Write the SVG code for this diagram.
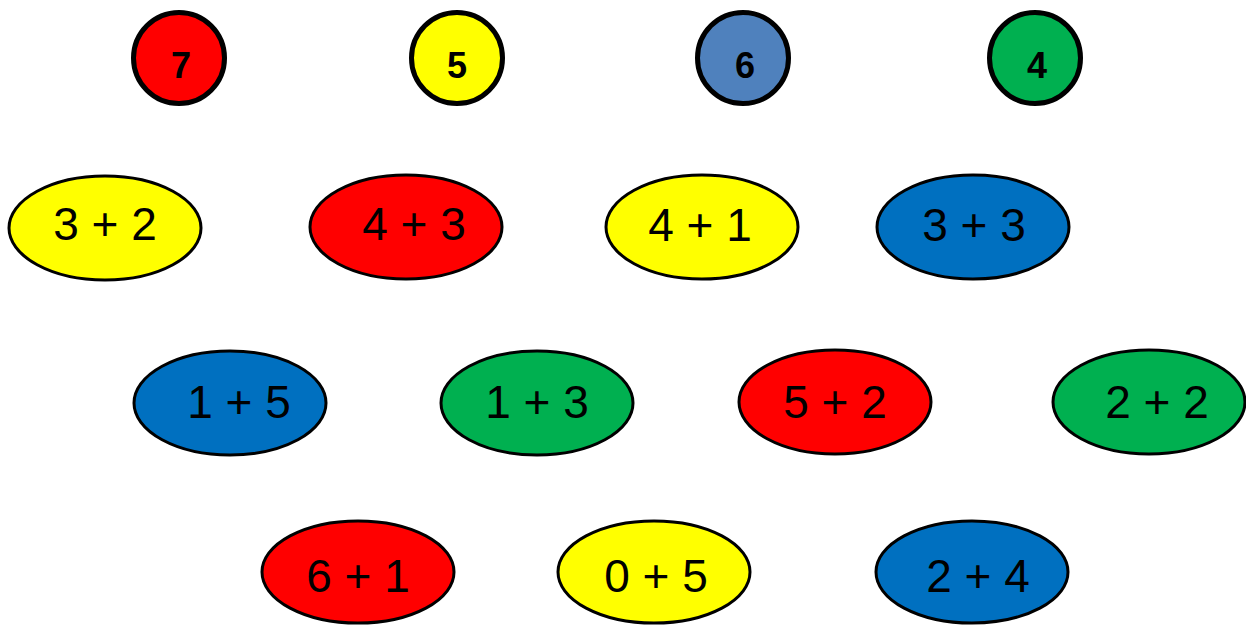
<svg xmlns="http://www.w3.org/2000/svg" width="1246" height="626" viewBox="0 0 1246 626">
<style>
.c{stroke:#000;stroke-width:5}
.e{stroke:#000;stroke-width:3}
.ct{font-family:"Liberation Sans",Arial,sans-serif;font-weight:bold;font-size:36px;text-anchor:middle;fill:#000}
.et{font-family:"Liberation Sans",Arial,sans-serif;font-size:46px;text-anchor:middle;fill:#000}
.r{fill:#FF0000}.y{fill:#FFFF00}.b{fill:#0070C0}.g{fill:#00B050}.lb{fill:#4F81BD}
</style>
<rect width="1246" height="626" fill="#fff"/>
<g id="c7"><circle class="c r" cx="179" cy="58" r="45.5"/><text class="ct" x="181" y="78">7</text></g>
<g id="c5"><circle class="c y" cx="457" cy="58" r="45.5"/><text class="ct" x="457" y="78">5</text></g>
<g id="c6"><circle class="c lb" cx="743" cy="58" r="45.5"/><text class="ct" x="745" y="78">6</text></g>
<g id="c4"><circle class="c g" cx="1035" cy="58" r="45.5"/><text class="ct" x="1037" y="78">4</text></g>

<g id="e32"><ellipse class="e y" cx="105" cy="228" rx="96" ry="52"/><text class="et" x="105" y="240">3 + 2</text></g>
<g id="e43"><ellipse class="e r" cx="406" cy="227" rx="96" ry="52"/><text class="et" x="414" y="240">4 + 3</text></g>
<g id="e41"><ellipse class="e y" cx="702" cy="227" rx="96" ry="52"/><text class="et" x="700" y="241">4 + 1</text></g>
<g id="e33"><ellipse class="e b" cx="973" cy="227" rx="96" ry="52"/><text class="et" x="974" y="241">3 + 3</text></g>

<g id="e15"><ellipse class="e b" cx="230" cy="403" rx="96" ry="52"/><text class="et" x="239" y="418">1 + 5</text></g>
<g id="e13"><ellipse class="e g" cx="537" cy="403" rx="96" ry="52"/><text class="et" x="537" y="418">1 + 3</text></g>
<g id="e52"><ellipse class="e r" cx="835" cy="402" rx="96" ry="52"/><text class="et" x="835" y="418">5 + 2</text></g>
<g id="e22"><ellipse class="e g" cx="1149" cy="402" rx="96" ry="52"/><text class="et" x="1157" y="418">2 + 2</text></g>

<g id="e61"><ellipse class="e r" cx="358" cy="572" rx="96" ry="51"/><text class="et" x="358" y="592">6 + 1</text></g>
<g id="e05"><ellipse class="e y" cx="654" cy="572" rx="96" ry="51"/><text class="et" x="656" y="592">0 + 5</text></g>
<g id="e24"><ellipse class="e b" cx="972" cy="572" rx="96" ry="51"/><text class="et" x="978" y="592">2 + 4</text></g>
<g id="connectors"></g>
</svg>
